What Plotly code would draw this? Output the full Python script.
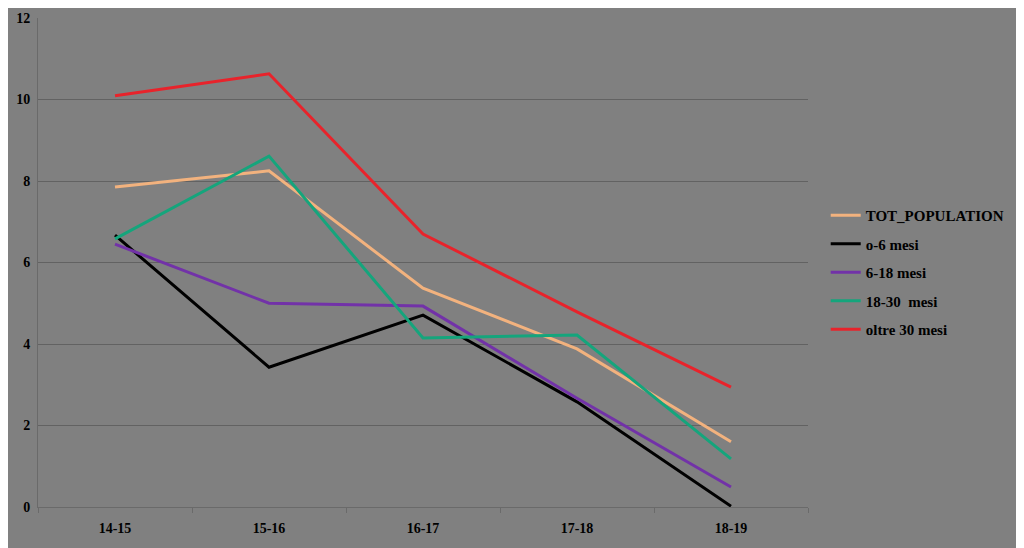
import plotly.graph_objects as go

categories = ["14-15", "15-16", "16-17", "17-18", "18-19"]
tot_population = [7.85, 8.25, 5.37, 3.88, 1.60]
mesi_0_6 = [6.67, 3.43, 4.71, 2.58, 0.02]
mesi_6_18 = [6.45, 5.00, 4.93, 2.67, 0.49]
mesi_18_30 = [6.58, 8.61, 4.15, 4.22, 1.18]
oltre_30 = [10.09, 10.63, 6.70, 4.79, 2.94]

series = [
    ("TOT_POPULATION", tot_population, "#f2b27e"),
    ("o-6 mesi", mesi_0_6, "#000000"),
    ("6-18 mesi", mesi_6_18, "#7232a8"),
    ("18-30  mesi", mesi_18_30, "#15a57c"),
    ("oltre 30 mesi", oltre_30, "#e8232b"),
]

fig = go.Figure()
for name, vals, color in series:
    fig.add_trace(go.Scatter(x=categories, y=vals, name=name, mode="lines",
                             legendgroup=name,
                             line=dict(color=color, width=3)))

font = dict(family="Liberation Serif", size=14, color="#000000")
fig.update_layout(
    width=1024, height=548,
    paper_bgcolor="#808080", plot_bgcolor="#808080",
    margin=dict(l=30, r=224, t=10, b=49, autoexpand=False),
    font=font,
    showlegend=True,
    legend=dict(x=1.023, y=0.63, xanchor="left", yanchor="top",
                bgcolor="rgba(0,0,0,0)", tracegroupgap=6,
                font=dict(family="Liberation Serif", size=15, color="#000000", weight="bold"),
                itemwidth=30),
    xaxis=dict(type="category", range=[-0.5, 4.5], showgrid=False, automargin=False,
               showline=True, linecolor="#6a6a6a", linewidth=1,
               ticks="outside", tickson="boundaries", ticklen=5, tickcolor="#6a6a6a",
               ticklabelstandoff=8,
               tickfont=dict(family="Liberation Serif", size=14, color="#000000", weight="bold"),
               zeroline=False),
    yaxis=dict(range=[0, 12], dtick=2, showgrid=True, gridcolor="#626262", gridwidth=1,
               automargin=False,
               showline=True, linecolor="#6a6a6a", linewidth=1,
               ticks="", ticklen=0, ticklabelstandoff=4,
               tickfont=dict(family="Liberation Serif", size=14, color="#000000", weight="bold"),
               zeroline=False),
)
fig.write_html("out.html")
